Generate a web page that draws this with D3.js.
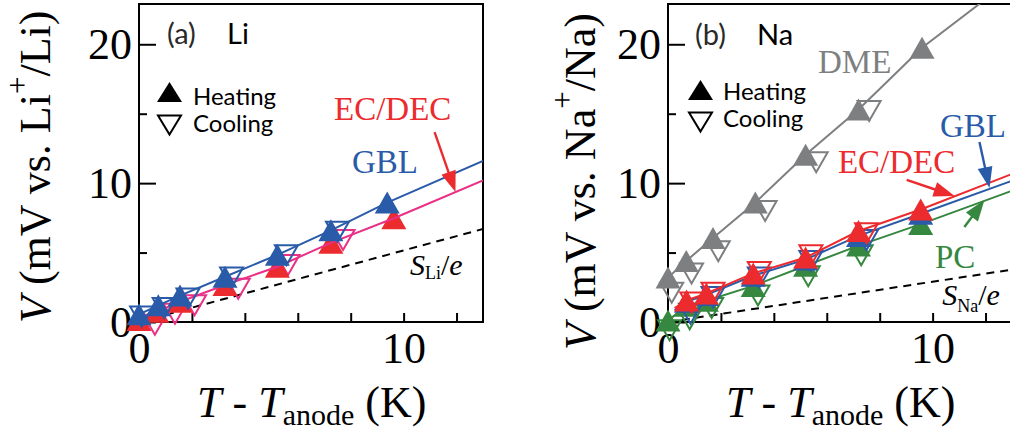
<!DOCTYPE html>
<html>
<head>
<meta charset="utf-8">
<script src="https://cdn.jsdelivr.net/npm/d3@7"></script>
<style>
  html, body { margin: 0; padding: 0; background: #fff; }
  svg { display: block; }
</style>
</head>
<body>
<script>
// ---- axis ticks ----
const xTickValues = [0, 2, 4, 6, 8, 10, 12];
const xTickLabels = [0, 10];
const yMajorTicks = [0, 10, 20];
const yMinorTicks = [5, 15];

// ---- panel (a): Li ----
const liGblHeatT = [0.0, 0.73, 1.55, 3.25, 5.23, 7.25, 9.38];
const liGblHeatV = [0.55, 1.2, 1.9, 3.26, 4.84, 6.6, 8.6];
const liGblCoolT = [0.1, 0.95, 1.85, 3.5, 5.57, 7.5];
const liGblCoolV = [0.4, 1.0, 1.7, 3.2, 4.8, 6.5];
const liGblLineEnd = 11.6;

const liEcHeatT = [0.0, 0.67, 1.55, 3.25, 5.23, 7.25, 9.63];
const liEcHeatV = [0.15, 0.74, 1.46, 2.66, 3.98, 5.7, 7.47];
const liEcCoolT = [0.6, 1.36, 2.1, 3.75, 5.63, 7.71];
const liEcCoolV = [-0.2, 0.6, 1.2, 2.4, 4.1, 5.9];
const liEcLineEnd = 10.2;

const liDashEnd = 6.7;   // S_Li/e at T - T_anode = 13 K

// ---- panel (b): Na ----
const naDmeHeatT = [0.0, 0.69, 1.7, 3.3, 5.2, 7.2, 9.6];
const naDmeHeatV = [3.2, 4.4, 6.05, 8.6, 12.05, 15.3, 19.75];
const naDmeCoolT = [0.14, 0.89, 1.9, 3.67, 5.6, 7.6];
const naDmeCoolV = [2.1, 3.5, 5.1, 8.0, 11.5, 15.2];
const naDmeLineEnd = 24.7;

const naEcHeatT = [0.7, 1.45, 3.22, 5.2, 7.2, 9.55];
const naEcHeatV = [1.55, 2.05, 3.5, 4.64, 6.55, 8.1];
const naEcCoolT = [0.9, 1.7, 3.45, 5.4, 7.5];
const naEcCoolV = [1.4, 2.1, 3.6, 4.8, 6.4];
const naEcLineStartT = 0.25, naEcLineStartV = 1.0;
const naEcLineEnd = 10.66;

const naGblHeatT = [0.7, 1.45, 3.22, 5.2, 7.2, 9.55];
const naGblHeatV = [1.45, 1.95, 3.33, 4.5, 6.2, 7.8];
const naGblCoolT = [0.85, 1.7, 3.45, 5.4, 7.5];
const naGblCoolV = [0.6, 1.8, 3.2, 4.4, 5.9];
const naGblLineStartT = 0.25, naGblLineStartV = 0.85;
const naGblLineEnd = 10.17;

const naPcHeatT = [0.0, 0.7, 1.45, 3.22, 5.2, 7.2, 9.55];
const naPcHeatV = [0.1, 1.17, 1.53, 2.6, 4.05, 5.5, 7.05];
const naPcCoolT = [0.06, 0.82, 1.65, 3.4, 5.3, 7.3];
const naPcCoolV = [-0.6, 0.2, 1.0, 1.9, 3.3, 4.8];
const naPcLineEnd = 9.45;

const naDashEnd = 3.77;  // S_Na/e at T - T_anode = 13 K

// ---- colours ----
const BLUE = "#2a5ba9";
const RED = "#ec2b2f";
const PINK = "#ea2f86";
const GREEN = "#36873f";
const GRAY = "#7d7f81";

const X_MAX = 13;
const Y_MAX = 22.9;
const SERIF = "'Liberation Serif', 'Times New Roman', serif";
const SANS = "Lato, 'Liberation Sans', sans-serif";

const zip = (ts, vs) => ts.map((t, i) => ({ t, v: vs[i] }));

const panels = [
  {
    key: "a", left: 139, right: 483, ion: "Li", tag: "(a)",
    tagDx: 28, ionDx: 88, tagY: 44,
    legend: { dx: 30.5, heatY: 92, coolY: 125, textDx: 54, heatBase: 105, coolBase: 132 },
    titleX: 50, titleY: 323,
    dashEnd: liDashEnd,
    dashLabel: { t: 10.24, v: 3.38, subDy: 4 },
    series: [
      { heat: zip(liEcHeatT, liEcHeatV), cool: zip(liEcCoolT, liEcCoolV), start: [], end: liEcLineEnd, fill: RED, open: PINK, line: PINK },
      { heat: zip(liGblHeatT, liGblHeatV), cool: zip(liGblCoolT, liGblCoolV), start: [], end: liGblLineEnd, fill: BLUE, open: BLUE, line: BLUE }
    ],
    labels: [
      { text: "EC/DEC", t: 7.37, v: 14.55, color: RED },
      { text: "GBL", t: 8.05, v: 10.73, color: BLUE }
    ],
    arrows: [
      { from: [11.17, 13.68], to: [11.96, 9.36], color: RED }
    ]
  },
  {
    key: "b", left: 668, right: 1012, ion: "Na", tag: "(b)",
    tagDx: 27, ionDx: 89, tagY: 45,
    legend: { dx: 32.5, heatY: 90, coolY: 122, textDx: 55, heatBase: 100, coolBase: 127 },
    titleX: 595, titleY: 350,
    dashEnd: naDashEnd,
    dashLabel: { t: 10.36, v: 1.22, subDy: 7 },
    series: [
      { heat: zip(naDmeHeatT, naDmeHeatV), cool: zip(naDmeCoolT, naDmeCoolV), start: [], end: naDmeLineEnd, fill: GRAY, open: GRAY, line: GRAY },
      { heat: zip(naPcHeatT, naPcHeatV), cool: zip(naPcCoolT, naPcCoolV), start: [], end: naPcLineEnd, fill: GREEN, open: GREEN, line: GREEN },
      { heat: zip(naGblHeatT, naGblHeatV), cool: zip(naGblCoolT, naGblCoolV), start: [{ t: naGblLineStartT, v: naGblLineStartV }], end: naGblLineEnd, fill: BLUE, open: BLUE, line: BLUE },
      { heat: zip(naEcHeatT, naEcHeatV), cool: zip(naEcCoolT, naEcCoolV), start: [{ t: naEcLineStartT, v: naEcLineStartV }], end: naEcLineEnd, fill: RED, open: RED, line: RED }
    ],
    labels: [
      { text: "DME", t: 5.67, v: 17.93, color: GRAY },
      { text: "EC/DEC", t: 6.42, v: 10.73, color: RED },
      { text: "GBL", t: 10.28, v: 13.32, color: BLUE },
      { text: "PC", t: 10.09, v: 3.89, color: GREEN }
    ],
    arrows: [
      { from: [11.77, 12.96], to: [12.15, 9.65], color: BLUE },
      { from: [9.02, 10.23], to: [10.83, 9.07], color: RED },
      { from: [11.2, 6.84], to: [11.96, 8.78], color: GREEN }
    ]
  }
];

const TOP = 4, BOTTOM = 322;
const TRI_W = 25, TRI_H = 22;

const svg = d3.select("body").append("svg")
  .attr("width", 1010).attr("height", 432);

function triUp(w, h) {
  return `M0,${-h / 2}L${w / 2},${h / 2}L${-w / 2},${h / 2}Z`;
}
function triDown(w, h) {
  return `M0,${h / 2}L${w / 2},${-h / 2}L${-w / 2},${-h / 2}Z`;
}

function drawArrow(g, x1, y1, x2, y2, color) {
  const dx = x2 - x1, dy = y2 - y1, L = Math.hypot(dx, dy);
  const ux = dx / L, uy = dy / L;
  const hl = 21, hw = 7.5;
  const bx = x2 - ux * hl, by = y2 - uy * hl;
  g.append("line")
    .attr("x1", x1).attr("y1", y1).attr("x2", bx + ux * 2).attr("y2", by + uy * 2)
    .attr("stroke", color).attr("stroke-width", 2.4);
  g.append("path")
    .attr("d", `M${x2},${y2}L${bx - uy * hw},${by + ux * hw}L${bx + uy * hw},${by - ux * hw}Z`)
    .attr("fill", color);
}

panels.forEach(p => {
  const x = d3.scaleLinear().domain([0, X_MAX]).range([p.left, p.right]);
  const y = d3.scaleLinear().domain([0, Y_MAX]).range([BOTTOM, TOP]);
  const g = svg.append("g").attr("class", "panel-" + p.key);

  const clipId = "clip-" + p.key;
  svg.append("clipPath").attr("id", clipId)
    .append("rect")
    .attr("x", p.left).attr("y", TOP)
    .attr("width", p.right - p.left).attr("height", BOTTOM - TOP);

  // axes with inward ticks
  const yAxis = d3.axisLeft(y).tickValues(yMajorTicks).tickSize(-17).tickPadding(7)
    .tickFormat(d3.format("d"));
  const yMinor = d3.axisLeft(y).tickValues(yMinorTicks).tickSize(-8).tickFormat("");
  const xAxis = d3.axisBottom(x).tickValues(xTickValues).tickSize(-9).tickPadding(10)
    .tickFormat(d => xTickLabels.includes(d) ? d : "");

  [[yAxis, `translate(${p.left},0)`], [yMinor, `translate(${p.left},0)`], [xAxis, `translate(0,${BOTTOM})`]]
    .forEach(([ax, tr]) => {
      const a = g.append("g").attr("transform", tr).call(ax);
      a.select(".domain").remove();
      a.selectAll("line").attr("stroke", "#000").attr("stroke-width", 2);
      a.selectAll("text").attr("font-family", SERIF).attr("font-size", 44).attr("fill", "#000");
    });

  // frame
  g.append("rect")
    .attr("x", p.left).attr("y", TOP)
    .attr("width", p.right - p.left).attr("height", BOTTOM - TOP)
    .attr("fill", "none").attr("stroke", "#000").attr("stroke-width", 2);

  // S/e reference line
  g.append("path")
    .attr("clip-path", `url(#${clipId})`)
    .datum([{ t: 0, v: 0 }, { t: X_MAX, v: p.dashEnd }])
    .attr("d", d3.line().x(d => x(d.t)).y(d => y(d.v)))
    .attr("fill", "none").attr("stroke", "#000").attr("stroke-width", 2)
    .attr("stroke-dasharray", "8,6");

  // data: cooling (open down-triangles), heating (filled up-triangles), then the connecting line
  const lineGen = d3.line().x(d => x(d.t)).y(d => y(d.v));
  p.series.forEach(s => {
    g.append("g").selectAll("path").data(s.cool).join("path")
      .attr("transform", d => `translate(${x(d.t)},${y(d.v)})`)
      .attr("d", triDown(TRI_W - 2, TRI_H - 2))
      .attr("fill", "none").attr("stroke", s.open).attr("stroke-width", 2);
    g.append("g").selectAll("path").data(s.heat).join("path")
      .attr("transform", d => `translate(${x(d.t)},${y(d.v)})`)
      .attr("d", triUp(TRI_W, TRI_H))
      .attr("fill", s.fill);
    const pts = s.start.concat(s.heat, [{ t: X_MAX, v: s.end }]);
    g.append("path")
      .attr("clip-path", `url(#${clipId})`)
      .datum(pts)
      .attr("d", lineGen)
      .attr("fill", "none").attr("stroke", s.line).attr("stroke-width", 2);
  });

  // panel tag
  g.append("text").attr("x", p.left + p.tagDx).attr("y", p.tagY)
    .attr("font-family", SANS).attr("font-size", 29).attr("fill", "#2a2a2a").text(p.tag);
  g.append("text").attr("x", p.left + p.ionDx).attr("y", p.tagY)
    .attr("font-family", SANS).attr("font-size", 29).attr("fill", "#000").text(p.ion);

  // legend
  const L = p.legend;
  g.append("path").attr("transform", `translate(${p.left + L.dx},${L.heatY})`)
    .attr("d", triUp(TRI_W, TRI_H - 2)).attr("fill", "#000");
  g.append("path").attr("transform", `translate(${p.left + L.dx},${L.coolY})`)
    .attr("d", triDown(TRI_W - 2, TRI_H - 3)).attr("fill", "none")
    .attr("stroke", "#000").attr("stroke-width", 2);
  g.append("text").attr("x", p.left + L.textDx).attr("y", L.heatBase)
    .attr("font-family", SANS).attr("font-size", 24).text("Heating");
  g.append("text").attr("x", p.left + L.textDx).attr("y", L.coolBase)
    .attr("font-family", SANS).attr("font-size", 24).text("Cooling");

  // solvent labels and arrows
  p.labels.forEach(l => {
    g.append("text").attr("x", x(l.t)).attr("y", y(l.v))
      .attr("font-family", SERIF).attr("font-size", 33).attr("fill", l.color).text(l.text);
  });
  p.arrows.forEach(a => {
    drawArrow(g, x(a.from[0]), y(a.from[1]), x(a.to[0]), y(a.to[1]), a.color);
  });

  // S/e label
  const dl = p.dashLabel;
  const st = g.append("text").attr("x", x(dl.t)).attr("y", y(dl.v))
    .attr("font-family", SERIF).attr("font-size", 30).attr("fill", "#000");
  st.append("tspan").attr("font-style", "italic").text("S");
  st.append("tspan").attr("font-size", 18).attr("dy", dl.subDy).text(p.ion);
  st.append("tspan").attr("dy", -dl.subDy).text("/");
  st.append("tspan").attr("font-style", "italic").text("e");

  // y-axis title
  const yt = g.append("text")
    .attr("transform", `translate(${p.titleX},${p.titleY}) rotate(-90)`)
    .attr("font-family", SERIF).attr("font-size", 44).attr("fill", "#000");
  yt.append("tspan").attr("font-style", "italic").text("V");
  yt.append("tspan").text(`\u00a0(mV vs. ${p.ion}`);
  yt.append("tspan").attr("font-size", 31).attr("dy", -22).text("+");
  yt.append("tspan").attr("dy", 22).text(`/${p.ion})`);

  // x-axis title
  const xt = g.append("text")
    .attr("x", p.left + 58).attr("y", 417)
    .attr("font-family", SERIF).attr("font-size", 44).attr("fill", "#000");
  xt.append("tspan").attr("font-style", "italic").text("T");
  xt.append("tspan").text("\u00a0-\u00a0");
  xt.append("tspan").attr("font-style", "italic").text("T");
  xt.append("tspan").attr("font-size", 30).attr("dy", 8).text("anode");
  xt.append("tspan").attr("dy", -8).text("\u00a0(K)");
});
</script>
</body>
</html>
